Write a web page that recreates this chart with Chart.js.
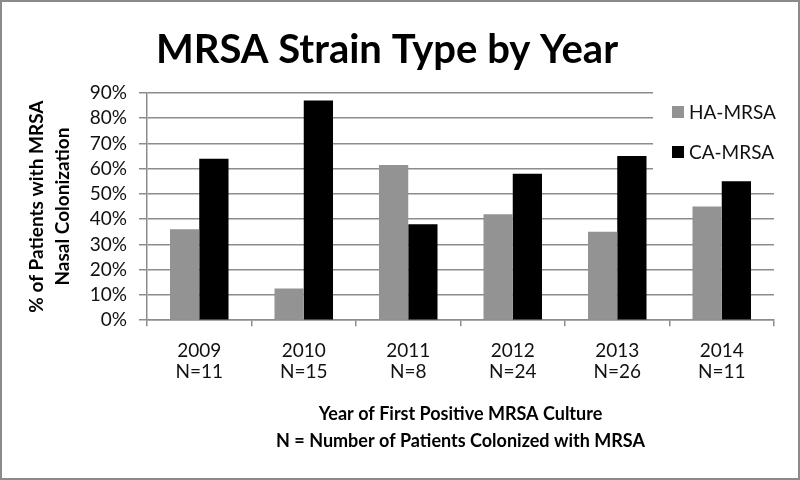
<!DOCTYPE html>
<html>
<head>
<meta charset="utf-8">
<script src="https://cdn.jsdelivr.net/npm/chart.js@4.4.1/dist/chart.umd.min.js"></script>
<style>
  html, body { margin: 0; padding: 0; background: #fff; }
  #wrap { width: 800px; height: 480px; position: relative; }
</style>
</head>
<body>
<div id="wrap"><canvas id="chart" width="800" height="480"></canvas></div>
<script>
// values
const years = ['2009', '2010', '2011', '2012', '2013', '2014'];
const patientCounts = ['N=11', 'N=15', 'N=8', 'N=24', 'N=26', 'N=11'];
const haMrsa = [36, 12.6, 61.5, 42, 35, 45];
const caMrsa = [64, 87, 38, 58, 65, 55];
const seriesNames = ['HA-MRSA', 'CA-MRSA'];

const FONT = 'Lato, "Open Sans", sans-serif';
const GRID = '#8c8c8c';

// frame round the picture
const framePlugin = {
    id: 'frame',
    afterDraw(chart) {
        const ctx = chart.ctx;
        ctx.save();
        ctx.strokeStyle = '#8a8a8a';
        ctx.lineWidth = 2;
        ctx.strokeRect(1, 1, chart.width - 2, chart.height - 2);
        ctx.restore();
    }
};

// legend box that sits over the upper gridlines on the right
const legendPlugin = {
    id: 'sideLegend',
    beforeDatasetsDraw(chart) {
        const ctx = chart.ctx;
        ctx.save();
        ctx.fillStyle = '#fff';
        ctx.fillRect(653, 86, chart.chartArea.right - 653 + 2, 92);
        ctx.restore();
    },
    afterDraw(chart) {
        const ctx = chart.ctx;
        ctx.save();
        ctx.font = '19px ' + FONT;
        ctx.textBaseline = 'middle';
        chart.data.datasets.forEach((ds, i) => {
            const y = 112 + i * 40;
            ctx.fillStyle = ds.backgroundColor;
            ctx.fillRect(672, y - 6, 12, 12);
            ctx.fillStyle = '#111';
            ctx.fillText(ds.label, 689, y + 1);
        });
        ctx.restore();
    }
};

document.addEventListener('DOMContentLoaded', () => {
    const ctx = document.getElementById('chart').getContext('2d');
    new Chart(ctx, {
        type: 'bar',
        data: {
            labels: years.map((y, i) => [y, patientCounts[i]]),
            datasets: [
                { label: seriesNames[0], data: haMrsa, backgroundColor: '#939393' },
                { label: seriesNames[1], data: caMrsa, backgroundColor: '#000000' }
            ]
        },
        options: {
            responsive: false,
            animation: false,
            devicePixelRatio: 1,
            layout: { padding: { top: 0, right: 26, bottom: 19, left: 0 } },
            datasets: { bar: { barPercentage: 1, categoryPercentage: 0.56 } },
            plugins: {
                legend: { display: false },
                tooltip: { enabled: false },
                title: {
                    display: true,
                    text: 'MRSA Strain Type by Year',
                    color: '#000',
                    font: { family: FONT, size: 40, weight: 'bold', lineHeight: 1.2 },
                    padding: { top: 26, bottom: 19 }
                }
            },
            scales: {
                x: {
                    grid: {
                        display: true,
                        offset: true,
                        drawOnChartArea: false,
                        drawTicks: true,
                        tickLength: 6,
                        color: GRID,
                        lineWidth: 1.5
                    },
                    border: { color: GRID, width: 1.5 },
                    ticks: {
                        color: '#111',
                        font: { family: FONT, size: 19, lineHeight: 1.1 },
                        padding: 14
                    },
                    title: {
                        display: true,
                        text: ['Year of First Positive MRSA Culture', 'N = Number of Patients Colonized with MRSA'],
                        color: '#000',
                        font: { family: FONT, size: 18, weight: 'bold', lineHeight: 1.5 },
                        padding: { top: 5, bottom: 6 }
                    }
                },
                y: {
                    min: 0,
                    max: 90,
                    afterFit(scale) { scale.width = 147; },
                    grid: {
                        color: GRID,
                        lineWidth: 1.5,
                        tickLength: 8
                    },
                    border: { color: GRID, width: 1.5 },
                    ticks: {
                        stepSize: 10,
                        autoSkip: false,
                        color: '#111',
                        font: { family: FONT, size: 19 },
                        padding: 12,
                        callback: v => v + '%'
                    },
                    title: {
                        display: true,
                        text: ['% of Patients with MRSA', 'Nasal Colonization'],
                        color: '#000',
                        font: { family: FONT, size: 19, weight: 'bold', lineHeight: 1.35 },
                        padding: { top: 24, bottom: 0 }
                    }
                }
            }
        },
        plugins: [legendPlugin, framePlugin]
    });
});
</script>
</body>
</html>
